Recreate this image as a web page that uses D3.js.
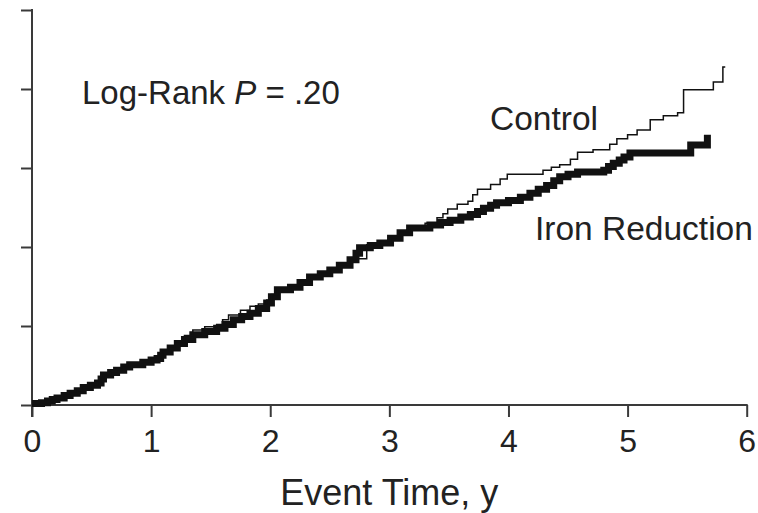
<!DOCTYPE html>
<html>
<head>
<meta charset="utf-8">
<script src="https://cdn.jsdelivr.net/npm/d3@7"></script>
<style>
  html, body { margin: 0; padding: 0; background: #fff; }
  svg { display: block; font-family: "Liberation Sans", Arial, Helvetica, sans-serif; }
</style>
</head>
<body>
<svg id="chart" width="758" height="513"></svg>
<script>
// ---- data ----
const xTicks = [0, 1, 2, 3, 4, 5, 6];
const yTicks = [0, 0.1, 0.2, 0.3, 0.4, 0.5];

const ironTime = [0, 0.08, 0.13, 0.17, 0.21, 0.27, 0.32, 0.38, 0.43, 0.49, 0.55, 0.58, 0.60, 0.66, 0.71, 0.77, 0.82, 0.93, 1.00, 1.05, 1.08, 1.10, 1.16, 1.22, 1.28, 1.35, 1.45, 1.55, 1.62, 1.69, 1.76, 1.83, 1.90, 1.97, 2.01, 2.06, 2.17, 2.25, 2.33, 2.42, 2.50, 2.58, 2.67, 2.72, 2.75, 2.84, 2.92, 3.01, 3.09, 3.17, 3.34, 3.43, 3.51, 3.60, 3.68, 3.74, 3.79, 3.85, 3.90, 4.00, 4.10, 4.18, 4.25, 4.32, 4.38, 4.43, 4.50, 4.58, 4.80, 4.84, 4.88, 4.93, 4.97, 5.02, 5.53, 5.67];
const ironValue = [0.002, 0.003, 0.005, 0.007, 0.009, 0.012, 0.015, 0.018, 0.022, 0.025, 0.028, 0.033, 0.038, 0.041, 0.044, 0.048, 0.051, 0.054, 0.057, 0.059, 0.063, 0.067, 0.072, 0.078, 0.083, 0.089, 0.093, 0.097, 0.102, 0.108, 0.112, 0.116, 0.122, 0.129, 0.137, 0.146, 0.149, 0.155, 0.162, 0.166, 0.171, 0.177, 0.184, 0.192, 0.199, 0.202, 0.205, 0.211, 0.218, 0.224, 0.228, 0.231, 0.234, 0.238, 0.241, 0.245, 0.249, 0.253, 0.256, 0.259, 0.263, 0.268, 0.273, 0.278, 0.284, 0.289, 0.292, 0.295, 0.297, 0.302, 0.306, 0.310, 0.314, 0.319, 0.329, 0.342];
const ironEnd = 5.67;

const controlTime = [0, 0.08, 0.13, 0.17, 0.21, 0.27, 0.32, 0.38, 0.43, 0.49, 0.55, 0.58, 0.60, 0.66, 0.71, 0.77, 0.82, 0.93, 1.00, 1.05, 1.08, 1.10, 1.15, 1.20, 1.28, 1.35, 1.45, 1.55, 1.60, 1.65, 1.75, 1.83, 1.90, 1.97, 2.01, 2.06, 2.17, 2.25, 2.33, 2.42, 2.50, 2.58, 2.67, 2.81, 2.92, 3.01, 3.09, 3.17, 3.30, 3.40, 3.45, 3.49, 3.57, 3.66, 3.70, 3.74, 3.85, 3.93, 3.99, 4.20, 4.29, 4.36, 4.43, 4.52, 4.58, 4.71, 4.85, 4.91, 5.00, 5.08, 5.19, 5.30, 5.42, 5.47, 5.72, 5.80];
const controlValue = [0, 0.003, 0.004, 0.006, 0.008, 0.012, 0.015, 0.018, 0.022, 0.026, 0.029, 0.034, 0.038, 0.042, 0.045, 0.048, 0.051, 0.055, 0.058, 0.060, 0.064, 0.068, 0.074, 0.080, 0.088, 0.095, 0.099, 0.102, 0.108, 0.114, 0.120, 0.125, 0.128, 0.133, 0.140, 0.148, 0.151, 0.157, 0.163, 0.167, 0.172, 0.178, 0.185, 0.203, 0.206, 0.212, 0.219, 0.225, 0.230, 0.237, 0.242, 0.248, 0.254, 0.258, 0.266, 0.273, 0.279, 0.286, 0.292, 0.292, 0.297, 0.301, 0.304, 0.311, 0.320, 0.323, 0.330, 0.337, 0.342, 0.348, 0.361, 0.366, 0.370, 0.399, 0.409, 0.428];
const controlEnd = 5.82;

// ---- scales ----
const svg = d3.select("#chart");
const x = d3.scaleLinear().domain([0, 6]).range([32, 746.7]);
const y = d3.scaleLinear().domain([0, 0.5]).range([405, 10]);

const axisColor = "#3a3a3a";
const textColor = "#222";

// ---- axes ----
const xAxis = svg.append("g")
  .attr("transform", `translate(0,${y(0)})`)
  .call(d3.axisBottom(x).tickValues(xTicks).tickSize(12).tickPadding(6).tickFormat(d3.format("d")));
xAxis.select(".domain").attr("stroke", axisColor).attr("stroke-width", 2)
  .attr("d", `M${x(0)},0H${x(6) + 1}`);
xAxis.selectAll(".tick line").attr("stroke", axisColor).attr("stroke-width", 2);
xAxis.selectAll(".tick text").attr("fill", textColor).attr("font-size", 32)
  .attr("font-family", "Liberation Sans, Arial, sans-serif").attr("dy", "0.9em");

const yAxis = svg.append("g")
  .attr("transform", `translate(${x(0)},0)`)
  .call(d3.axisLeft(y).tickValues(yTicks).tickSize(11).tickFormat(""));
yAxis.select(".domain").attr("stroke", axisColor).attr("stroke-width", 2)
  .attr("d", `M0,${y(0.5) - 1}V${y(0) + 12}`);
yAxis.selectAll(".tick line").attr("stroke", axisColor).attr("stroke-width", 2);

// ---- curves ----
function steps(times, values, end) {
  const pts = times.map((t, i) => [t, values[i]]);
  pts.push([end, values[values.length - 1]]);
  return pts;
}
const line = d3.line().x(d => x(d[0])).y(d => y(d[1])).curve(d3.curveStepAfter);

svg.append("path")
  .datum(steps(ironTime, ironValue, ironEnd))
  .attr("d", line)
  .attr("fill", "none")
  .attr("stroke", "#111")
  .attr("stroke-width", 7)
  .attr("stroke-linejoin", "miter");

svg.append("path")
  .datum(steps(controlTime, controlValue, controlEnd))
  .attr("d", line)
  .attr("fill", "none")
  .attr("stroke", "#111")
  .attr("stroke-width", 1.5);

// ---- annotations ----
const lr = svg.append("text").attr("x", 82).attr("y", 104)
  .attr("font-size", 33).attr("fill", textColor);
lr.append("tspan").text("Log-Rank ");
lr.append("tspan").attr("font-style", "italic").text("P");
lr.append("tspan").text(" = .20");

svg.append("text").attr("x", 490).attr("y", 130)
  .attr("font-size", 33.5).attr("fill", textColor).text("Control");

svg.append("text").attr("x", 535).attr("y", 240)
  .attr("font-size", 33.5).attr("fill", textColor).text("Iron Reduction");

svg.append("text").attr("x", x(3)).attr("y", 505)
  .attr("text-anchor", "middle")
  .attr("font-size", 36).attr("fill", textColor).text("Event Time, y");
</script>
</body>
</html>
